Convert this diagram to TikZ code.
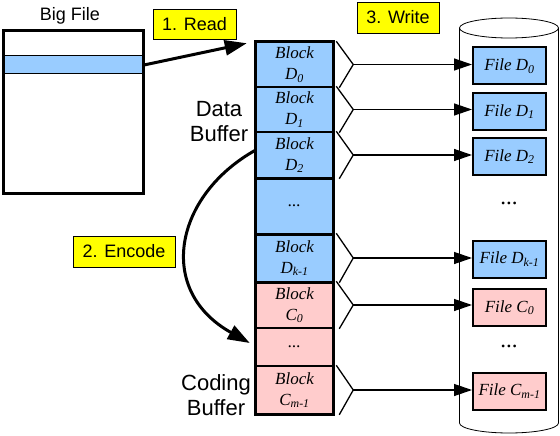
\documentclass[tikz,border=0pt]{standalone}
\usepackage{fontspec}
\setmainfont{Liberation Serif}
\setsansfont{Liberation Sans}
\usetikzlibrary{arrows.meta}
\definecolor{datablue}{HTML}{99CCFF}
\definecolor{codepink}{HTML}{FFCCCC}
\definecolor{stepyellow}{HTML}{FFFF00}

\begin{document}
\begin{tikzpicture}[
    x=1pt, y=-1pt,
    every node/.style={inner sep=0pt},
    biglabel/.style={font=\sffamily\fontsize{22}{25}\selectfont, align=center},
    steplabel/.style={draw, fill=stepyellow, line width=0.8pt, font=\sffamily\fontsize{18}{20}\selectfont, minimum height=30},
    blk/.style={draw, line width=1.5pt, minimum width=76, font=\itshape\fontsize{17}{21}\selectfont, align=center},
    dblk/.style={blk, fill=datablue},
    cblk/.style={blk, fill=codepink},
    filebox/.style={draw, line width=2pt, minimum width=73, minimum height=37, font=\itshape\fontsize{17}{20}\selectfont},
    dfile/.style={filebox, fill=datablue},
    cfile/.style={filebox, fill=codepink},
    filedots/.style={font=\fontsize{23}{24}\selectfont},
    fork/.style={line width=1.3pt},
    wr/.style={-{Triangle[length=18pt, width=12pt]}, line width=1.3pt},
    bigarrow/.style={-{Triangle[length=22pt, width=15pt]}, line width=3pt}
]
\useasboundingbox (0,0) rectangle (560,436);

% BIG FILE
\node[draw, fill=datablue, line width=1pt, minimum width=140, minimum height=18] (stripe) at (73.5,65) {};
\node[draw, line width=3pt, minimum width=140, minimum height=163] (bigfile) at (73.5,112) {};
\node[font=\sffamily\fontsize{18}{20}\selectfont] (bigtitle) at (70,16) {Big File};

% BUFFER BLOCKS
\node[dblk, minimum height=45] (bd0) at (294.5,64.5) {Block\\D\textsubscript{0}};
\node[dblk, minimum height=45] (bd1) at (294.5,109.5) {Block\\D\textsubscript{1}};
\node[dblk, minimum height=46] (bd2) at (294.5,155) {Block\\D\textsubscript{2}};
\node[dblk, minimum height=56] (bdd) at (294.5,206) {...};
\node[dblk, minimum height=48] (bdk) at (294.5,258) {Block\\D\textsubscript{k-1}};
\node[cblk, minimum height=46] (bc0) at (294.5,305) {Block\\C\textsubscript{0}};
\node[cblk, minimum height=38] (bcd) at (294.5,347) {...};
\node[cblk, minimum height=48] (bcm) at (294.5,390) {Block\\C\textsubscript{m-1}};
\draw[line width=3pt] (bd0.north west) rectangle (bcm.south east);
\draw[line width=3pt] (bdk.south west) -- (bdk.south east);
\draw[line width=2pt] (bd2.south west) -- (bd2.south east);
\draw[line width=2pt] (bdd.south west) -- (bdd.south east);

\node[biglabel] (databuf) at (219,122) {Data\\Buffer};
\node[biglabel] (codebuf) at (216,395) {Coding\\Buffer};

% DISK
\draw[line width=0.8pt] (509,28) ellipse [x radius=49.5pt, y radius=10pt];
\draw[line width=0.8pt] (459.5,28) -- (459.5,423) arc[start angle=180, end angle=360, x radius=49.5pt, y radius=10pt] -- (558.5,28);

% FILES
\node[dfile] (fd0) at (509.5,66) {File D\textsubscript{0}};
\node[dfile] (fd1) at (509.5,111.5) {File D\textsubscript{1}};
\node[dfile] (fd2) at (509.5,156.5) {File D\textsubscript{2}};
\node[filedots] (fdd) at (509,203) {...};
\node[dfile] (fdk) at (509.5,259) {File D\textsubscript{k-1}};
\node[cfile] (fc0) at (509.5,307.5) {File C\textsubscript{0}};
\node[filedots] (fcd) at (509,346) {...};
\node[cfile] (fcm) at (509.5,391) {File C\textsubscript{m-1}};

% STEPS
\node[steplabel, minimum width=83] (read) at (194.5,24) {1. Read};
\node[steplabel, minimum width=102, minimum height=31] (encode) at (124,251.5) {2. Encode};
\node[steplabel, minimum width=82, minimum height=31] (write) at (398,17.5) {3. Write};

% ARROWS
\draw[bigarrow] (stripe.east) -- ([xshift=-9, yshift=-2]bd0.north west);
\draw[bigarrow] ([yshift=5]bd2.west) .. controls (175,195) and (155,290) .. ([xshift=-6, yshift=4]bcd.west);

\draw[fork] ([xshift=3]bd0.north east) -- ([xshift=20]bd0.east) coordinate (a0) -- ([xshift=6]bd0.south east);
\draw[fork] ([xshift=3]bd1.north east) -- ([xshift=20]bd1.east) coordinate (a1) -- ([xshift=6]bd1.south east);
\draw[fork] ([xshift=3]bd2.north east) -- ([xshift=20]bd2.east) coordinate (a2) -- ([xshift=6]bd2.south east);
\draw[fork] ([xshift=3]bdk.north east) -- ([xshift=20]bdk.east) coordinate (ak) -- ([xshift=6]bdk.south east);
\draw[fork] ([xshift=3]bc0.north east) -- ([xshift=20]bc0.east) coordinate (c0) -- ([xshift=6]bc0.south east);
\draw[fork] ([xshift=3]bcm.north east) -- ([xshift=20]bcm.east) coordinate (cm) -- ([xshift=6]bcm.south east);

\draw[wr] (a0) -- (a0 -| fd0.west);
\draw[wr] (a1) -- (a1 -| fd1.west);
\draw[wr] (a2) -- (a2 -| fd2.west);
\draw[wr] (ak) -- (ak -| fdk.west);
\draw[wr] (c0) -- (c0 -| fc0.west);
\draw[wr] (cm) -- (cm -| fcm.west);

\end{tikzpicture}
\end{document}
